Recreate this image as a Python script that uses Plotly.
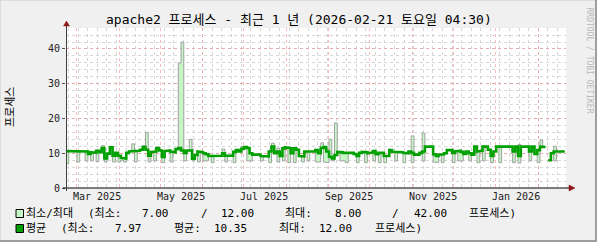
import plotly.graph_objects as go
from datetime import datetime, timedelta

# ---------------- data ----------------
START = datetime(2025, 2, 21, 4, 30)
END = datetime(2026, 2, 21, 4, 30)
BIN_DAYS = 2  # each value covers two days

avg_vals = [
    10.6, 10.6, 10.6, 10.6, 10.6, 10.6, 10.6, 10.5, 9.8, 10.3,
    10.1, 10.7, 10.3, 11.5, 8.5, 9.9, 11.7, 9.3, 10.1, 9.3,
    8.7, 8.5, 10.1, 10.5, 10.7, 10.7, 10.7, 11.0, 11.8, 11.0,
    9.3, 10.4, 10.5, 11.5, 10.8, 8.9, 10.6, 10.8, 10.5, 10.3,
    11.2, 11.5, 10.8, 10.1, 10.8, 10.8, 8.4, 9.5, 10.5, 10.3,
    10.0, 9.7, 9.2, 9.2, 9.2, 9.2, 9.3, 10.0, 9.3, 9.2,
    9.3, 10.4, 10.9, 10.5, 11.3, 11.8, 11.5, 10.0, 9.6, 9.5,
    9.6, 9.2, 9.2, 9.1, 10.5, 11.9, 10.0, 10.5, 9.2, 11.4,
    11.7, 11.5, 10.0, 11.4, 11.0, 9.2, 9.1, 10.5, 10.5, 10.5,
    10.5, 10.9, 10.0, 11.5, 11.8, 10.5, 9.0, 8.5, 9.5, 10.4,
    10.3, 10.1, 10.2, 10.2, 10.1, 9.8, 9.2, 10.1, 10.4, 10.3,
    10.0, 10.2, 10.6, 9.7, 10.1, 10.1, 9.2, 9.2, 10.9, 10.4,
    10.4, 10.4, 10.3, 10.1, 10.0, 10.5, 10.1, 9.6, 9.6, 10.1,
    10.5, 11.9, 12.0, 11.9, 9.7, 9.2, 9.6, 9.7, 10.0, 10.9,
    10.9, 10.1, 10.5, 10.7, 10.4, 9.8, 10.5, 10.0, 9.6, 11.9,
    10.5, 10.7, 11.9, 11.9, 11.0, 9.2, 10.5, 11.9, 11.9, 12.0,
    12.0, 11.9, 11.9, 10.5, 11.9, 9.2, 11.9, 11.9, 11.9, 10.5,
    11.9, 9.8, 10.9, 11.9, 11.8, None, 7.97, 10.0, 10.5, 10.5,
    10.5, 10.5,
]

min_vals = [
    7.0, 10.6, 10.6, 10.6, 7.5, 10.6, 10.6, 7.8, 9.8, 7.8,
    10.1, 7.6, 10.3, 11.5, 7.5, 9.9, 11.7, 7.5, 10.1, 7.5,
    8.0, 7.5, 10.1, 10.5, 10.7, 7.5, 10.7, 11.0, 11.8, 11.0,
    7.5, 10.4, 7.8, 11.5, 10.8, 7.3, 10.6, 10.8, 7.5, 10.3,
    11.2, 11.5, 10.8, 7.8, 10.8, 10.8, 7.8, 9.5, 7.5, 10.3,
    7.8, 7.8, 9.2, 7.3, 9.2, 9.2, 9.3, 10.0, 7.5, 9.2,
    9.3, 7.3, 10.9, 10.5, 11.3, 11.8, 7.8, 7.8, 9.6, 9.5,
    9.6, 7.8, 9.2, 9.1, 7.3, 11.9, 10.0, 7.5, 9.2, 7.8,
    11.7, 7.3, 10.0, 7.3, 11.0, 9.2, 7.5, 10.5, 7.8, 10.5,
    10.5, 7.5, 7.5, 11.5, 7.5, 7.3, 9.0, 7.8, 9.5, 10.4,
    7.8, 7.8, 7.3, 10.2, 10.1, 9.8, 7.3, 10.1, 10.4, 7.3,
    10.0, 10.2, 7.8, 9.7, 7.3, 10.1, 7.3, 9.2, 10.9, 10.4,
    7.8, 10.4, 10.3, 7.3, 10.0, 10.5, 7.3, 9.6, 9.6, 10.1,
    7.8, 11.9, 12.0, 11.9, 7.5, 7.3, 9.6, 7.3, 10.0, 10.9,
    10.9, 7.3, 10.5, 7.8, 7.8, 9.8, 10.5, 7.8, 9.6, 11.9,
    7.3, 10.7, 7.8, 11.9, 11.0, 7.3, 10.5, 11.9, 7.3, 12.0,
    12.0, 11.9, 11.9, 7.3, 11.9, 7.2, 11.9, 11.9, 11.9, 7.8,
    11.9, 9.8, 7.3, 11.9, 11.8, None, 7.9, 10.0, 7.8, 10.5,
    10.5, 10.5,
]

max_vals = [
    10.6, 10.6, 10.6, 10.6, 10.6, 10.6, 10.6, 10.5, 9.8, 10.3,
    10.1, 10.7, 10.3, 12.2, 8.5, 9.9, 12.0, 9.3, 10.1, 9.3,
    8.7, 8.5, 10.1, 10.5, 12.7, 10.7, 10.7, 11.0, 12.2, 16.0,
    9.3, 10.4, 10.5, 11.5, 10.8, 8.9, 10.6, 10.8, 10.5, 10.3,
    11.2, 36.0, 42.0, 10.1, 10.8, 14.0, 8.4, 9.5, 10.5, 10.3,
    10.0, 9.7, 9.2, 9.2, 9.2, 9.2, 9.3, 11.2, 9.3, 9.2,
    9.3, 10.4, 10.9, 10.5, 12.0, 11.8, 11.5, 10.0, 9.6, 9.5,
    9.6, 9.2, 9.2, 9.1, 10.5, 12.9, 10.0, 11.5, 9.2, 11.4,
    11.7, 11.5, 10.0, 11.4, 11.0, 9.2, 9.1, 10.5, 10.5, 10.5,
    10.5, 10.9, 10.0, 13.0, 11.8, 10.5, 14.0, 8.5, 18.7, 10.4,
    10.3, 10.1, 10.2, 10.2, 10.1, 9.8, 9.2, 10.1, 10.4, 10.3,
    10.0, 10.2, 10.6, 9.7, 10.1, 10.1, 9.2, 9.2, 10.9, 10.4,
    10.4, 10.4, 10.3, 10.1, 10.0, 10.5, 15.0, 9.6, 9.6, 10.1,
    15.8, 11.9, 12.0, 11.9, 9.7, 9.2, 9.6, 9.7, 10.0, 10.9,
    10.9, 10.1, 10.5, 10.7, 10.4, 9.8, 10.5, 10.0, 9.6, 11.9,
    10.5, 10.7, 11.9, 11.9, 11.0, 9.2, 10.5, 11.9, 11.9, 12.0,
    12.0, 11.9, 11.9, 10.5, 11.9, 12.5, 11.9, 11.9, 11.9, 10.5,
    11.9, 9.8, 10.9, 13.8, 11.8, None, 8.0, 10.0, 12.0, 10.5,
    10.5, 10.5,
]

month_grid = ["2025-03-01", "2025-04-01", "2025-05-01", "2025-06-01", "2025-07-01",
              "2025-08-01", "2025-09-01", "2025-10-01", "2025-11-01", "2025-12-01",
              "2026-01-01", "2026-02-01"]
x_labels = ["Mar 2025", "May 2025", "Jul 2025", "Sep 2025", "Nov 2025", "Jan 2026"]
x_label_pos = ["2025-03-16", "2025-05-16", "2025-07-16", "2025-09-16", "2025-11-16", "2026-01-16"]
y_ticks = [0, 10, 20, 30, 40]

title_text = "apache2 프로세스 - 최근 1 년 (2026-02-21 토요일 04:30)"
y_title = "프로세스"
legend1 = [("최소/최대", 23.5), ("(최소:", 86), ("7.00", 140), ("/", 199), ("12.00", 219),
           ("최대:", 283), ("8.00", 333), ("/", 390), ("42.00", 412), ("프로세스)", 467)]
legend2 = [("평균", 24), ("(최소:", 59), ("7.97", 113), ("평균:", 172), ("10.35", 212),
           ("최대:", 277), ("12.00", 317), ("프로세스)", 373)]

# ---------------- geometry helpers ----------------
L, R, T, B = 66, 31, 28, 54
W, H = 597, 242
PW, PH = W - L - R, H - T - B


def px(x):
    return (x - L) / PW


def py(y):
    return (H - B - y) / PH


def edge(i):
    return START + timedelta(days=BIN_DAYS * i)


def step_xy(vals):
    xs, ys = [], []
    for i, v in enumerate(vals):
        if v is None:
            xs.append(None)
            ys.append(None)
            continue
        xs += [edge(i), edge(i + 1)]
        ys += [v, v]
    return xs, ys


def band_polys(lo, hi):
    polys, seg = [], []
    for i in range(len(lo)):
        if lo[i] is None or hi[i] is None:
            if seg:
                polys.append(seg)
            seg = []
        else:
            seg.append(i)
    if seg:
        polys.append(seg)
    out = []
    for seg in polys:
        xs, ys = [], []
        for i in seg:
            xs += [edge(i), edge(i + 1)]
            ys += [hi[i], hi[i]]
        for i in reversed(seg):
            xs += [edge(i + 1), edge(i)]
            ys += [lo[i], lo[i]]
        out.append((xs, ys))
    return out


MONO = "DejaVu Sans Mono, Noto Sans CJK KR, monospace"
LIGHT = "#c6f5c6"
DARK = "#00a000"
OUTLINE = "#a0a0a0"
MAJOR_GRID = "rgba(240,140,140,0.6)"
MINOR_GRID = "#d6d6d6"

fig = go.Figure()

for xs, ys in band_polys(min_vals, max_vals):
    fig.add_trace(go.Scatter(x=xs, y=ys, mode="lines", fill="toself", fillcolor=LIGHT,
                             line=dict(width=0), hoverinfo="skip", showlegend=False))

mx, my = step_xy(min_vals)
fig.add_trace(go.Scatter(x=mx, y=my, mode="lines", line=dict(color=OUTLINE, width=1),
                         connectgaps=False, showlegend=False))
Mx, My = step_xy(max_vals)
fig.add_trace(go.Scatter(x=Mx, y=My, mode="lines", line=dict(color=OUTLINE, width=1),
                         connectgaps=False, showlegend=False))
ax, ay = step_xy(avg_vals)
fig.add_trace(go.Scatter(x=ax, y=ay, mode="lines", line=dict(color=DARK, width=2.6),
                         connectgaps=False, showlegend=False))

shapes = []
# frame (3D shade)
shapes.append(dict(type="line", xref="paper", yref="paper", x0=px(0), x1=px(W), y0=py(0.5), y1=py(0.5),
                   line=dict(color="#dcdcdc", width=1)))
shapes.append(dict(type="line", xref="paper", yref="paper", x0=px(0.5), x1=px(0.5), y0=py(0), y1=py(H),
                   line=dict(color="#dcdcdc", width=1)))
shapes.append(dict(type="line", xref="paper", yref="paper", x0=px(0), x1=px(W), y0=py(H - 1), y1=py(H - 1),
                   line=dict(color="#9e9e9e", width=2)))
shapes.append(dict(type="line", xref="paper", yref="paper", x0=px(W - 1), x1=px(W - 1), y0=py(0), y1=py(H),
                   line=dict(color="#9e9e9e", width=2)))
# axes
shapes.append(dict(type="line", xref="paper", yref="paper", x0=px(63), x1=px(570), y0=py(188), y1=py(188),
                   line=dict(color="#000000", width=1), layer="above"))
shapes.append(dict(type="line", xref="paper", yref="paper", x0=px(66.5), x1=px(66.5), y0=py(191), y1=py(25),
                   line=dict(color="#404040", width=1), layer="above"))
ARROW = "#8c1515"
shapes.append(dict(type="path", xref="paper", yref="paper",
                   path=f"M {px(63.5)} {py(26)} L {px(69.5)} {py(26)} L {px(66.5)} {py(21)} Z",
                   fillcolor=ARROW, line=dict(color=ARROW, width=0.5), layer="above"))
shapes.append(dict(type="path", xref="paper", yref="paper",
                   path=f"M {px(569)} {py(185)} L {px(569)} {py(191)} L {px(575)} {py(188)} Z",
                   fillcolor=ARROW, line=dict(color=ARROW, width=0.5), layer="above"))
# legend swatches
shapes.append(dict(type="rect", xref="paper", yref="paper", x0=px(16), x1=px(23.5), y0=py(217.5), y1=py(209.5),
                   fillcolor=LIGHT, line=dict(color="#000000", width=1)))
shapes.append(dict(type="rect", xref="paper", yref="paper", x0=px(16), x1=px(23.5), y0=py(232.5), y1=py(224.5),
                   fillcolor=DARK, line=dict(color="#000000", width=1)))

annotations = []
annotations.append(dict(text=title_text, xref="paper", yref="paper", x=px(298.5), y=py(19),
                        xanchor="center", yanchor="middle", showarrow=False,
                        font=dict(family=MONO, size=13, color="#000000")))
annotations.append(dict(text=y_title, xref="paper", yref="paper", x=px(10), y=py(107), textangle=-90,
                        xanchor="center", yanchor="middle", showarrow=False,
                        font=dict(family=MONO, size=11, color="#000000")))
annotations.append(dict(text="RRDTOOL / TOBI OETIKER", xref="paper", yref="paper", x=px(588.5), y=py(60),
                        textangle=90, xanchor="center", yanchor="middle", showarrow=False,
                        font=dict(family=MONO, size=8, color="#b8b8b8")))
for txt, pos in zip(x_labels, x_label_pos):
    annotations.append(dict(text=txt, xref="x", yref="paper", x=pos, y=py(196.5),
                            xanchor="center", yanchor="middle", showarrow=False,
                            font=dict(family=MONO, size=10, color="#222222")))
for txt, xx in legend1:
    annotations.append(dict(text=txt, xref="paper", yref="paper", x=px(xx), y=py(213.5),
                            xanchor="left", yanchor="middle", showarrow=False,
                            font=dict(family=MONO, size=11, color="#000000")))
for txt, xx in legend2:
    annotations.append(dict(text=txt, xref="paper", yref="paper", x=px(xx), y=py(228.5),
                            xanchor="left", yanchor="middle", showarrow=False,
                            font=dict(family=MONO, size=11, color="#000000")))

fig.update_layout(
    width=W, height=H,
    margin=dict(l=L, r=R, t=T, b=B, pad=0),
    paper_bgcolor="#f0f0f0", plot_bgcolor="#ffffff",
    showlegend=False,
    shapes=shapes, annotations=annotations,
    xaxis=dict(type="date", range=[START, END], tickvals=month_grid, showticklabels=False,
               showgrid=True, gridcolor=MAJOR_GRID, griddash="dot", gridwidth=1,
               ticks="", zeroline=False, showline=False, fixedrange=True,
               minor=dict(tick0="2025-02-23", dtick=7 * 86400000, showgrid=True,
                          gridcolor=MINOR_GRID, griddash="dot", gridwidth=1, ticks="")),
    yaxis=dict(range=[0, 46.04], tickvals=y_ticks, ticktext=[str(v) for v in y_ticks],
               showgrid=True, gridcolor=MAJOR_GRID, griddash="dot", gridwidth=1,
               ticks="outside", ticklen=3, tickcolor="#555555", zeroline=False, showline=False,
               tickfont=dict(family=MONO, size=10, color="#222222"), fixedrange=True,
               minor=dict(tick0=0, dtick=2, showgrid=True, gridcolor=MINOR_GRID,
                          griddash="dot", gridwidth=1, ticks="")),
)

fig.write_html("out.html")
